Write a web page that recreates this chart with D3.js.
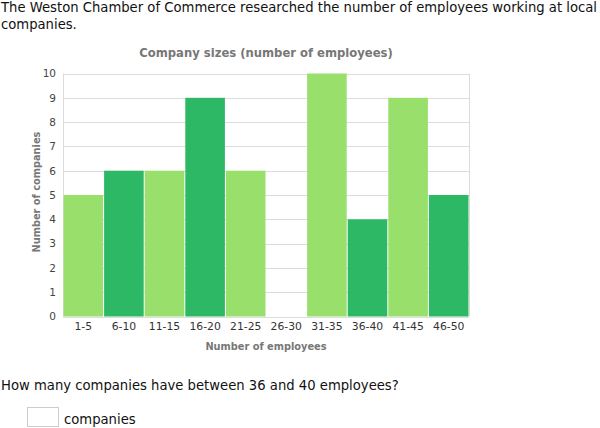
<!DOCTYPE html>
<html><head><meta charset="utf-8">
<script src="https://cdn.jsdelivr.net/npm/d3@7"></script>
<style>
body{margin:0;padding:0;background:#fff;font-family:Verdana,"DejaVu Sans",sans-serif;}
#wrap{position:relative;width:600px;height:428px;overflow:hidden;}
.txt{position:absolute;font-size:13.2px;color:#111;line-height:17px;}
</style></head><body>
<div id="wrap">
<div class="txt" style="left:1px;top:-1px;width:605px;white-space:nowrap;">The Weston Chamber of Commerce researched the number of employees working at local<br>companies.</div>
<svg id="chart" width="600" height="428" style="position:absolute;left:0;top:0"></svg>
<div class="txt" style="left:1px;top:377px;">How many companies have between 36 and 40 employees?</div>
<div style="position:absolute;left:27px;top:407px;width:30px;height:18px;border:1px solid #ccc;"></div>
<div class="txt" style="left:64px;top:411px;">companies</div>
</div>
<script>
const categories = ["1-5","6-10","11-15","16-20","21-25","26-30","31-35","36-40","41-45","46-50"];
const values = [5,6,6,9,6,0,10,4,9,5];
const yTicks = [0,1,2,3,4,5,6,7,8,9,10];
const colors = ["#98e06b","#2db866"];

const svg = d3.select("#chart");
const pL=63, pR=469, pT=73.5, pB=316.5;
const x = d3.scaleBand().domain(categories).range([pL,pR]).padding(0);
const y = d3.scaleLinear().domain([0,10]).range([pB,pT]);

// gridlines
svg.append("g").selectAll("line").data(yTicks).join("line")
  .attr("x1",pL).attr("x2",pR)
  .attr("y1",d=>Math.round(y(d))+0.5).attr("y2",d=>Math.round(y(d))+0.5)
  .attr("stroke","#dcdcdc").attr("stroke-width",1);
// frame
svg.append("line").attr("x1",Math.round(pR)+0.5).attr("x2",Math.round(pR)+0.5)
  .attr("y1",pT).attr("y2",pB).attr("stroke","#dcdcdc");
svg.append("line").attr("x1",pL+0.5).attr("x2",pL+0.5)
  .attr("y1",pT).attr("y2",pB).attr("stroke","#dcdcdc");

// bars
svg.append("g").selectAll("rect").data(values).join("rect")
  .attr("x",(d,i)=>x(categories[i])+0.5)
  .attr("width",x.bandwidth()-1)
  .attr("y",d=>y(d))
  .attr("height",d=>y(0)-y(d))
  .attr("fill",(d,i)=>colors[i%2]);

const FF = "Verdana,'DejaVu Sans',sans-serif";
// y axis labels
const yAxis = d3.axisLeft(y).tickValues(yTicks).tickSize(0).tickPadding(7).tickFormat(d3.format("d"));
const gy = svg.append("g").attr("transform",`translate(${pL},0)`).call(yAxis);
gy.select(".domain").remove();
gy.selectAll("text").attr("font-family",FF).attr("font-size","10.5px").attr("fill","#444");

// x axis labels
const xAxis = d3.axisBottom(x).tickSize(0).tickPadding(6);
const gx = svg.append("g").attr("transform",`translate(0,${pB})`).call(xAxis);
gx.select(".domain").remove();
gx.selectAll("text").attr("font-family",FF).attr("font-size","10.8px").attr("fill","#333");

// titles
svg.append("text").attr("x",266).attr("y",57).attr("text-anchor","middle")
  .attr("font-family",FF).attr("font-size","11.6px").attr("font-weight","bold")
  .attr("fill","#777").text("Company sizes (number of employees)");
svg.append("text").attr("x",266).attr("y",350).attr("text-anchor","middle")
  .attr("font-family",FF).attr("font-size","9.8px").attr("font-weight","bold")
  .attr("fill","#777").text("Number of employees");
svg.append("text").attr("transform","translate(40,192) rotate(-90)").attr("text-anchor","middle")
  .attr("font-family",FF).attr("font-size","9.8px").attr("font-weight","bold")
  .attr("fill","#777").text("Number of companies");
</script>
</body></html>
